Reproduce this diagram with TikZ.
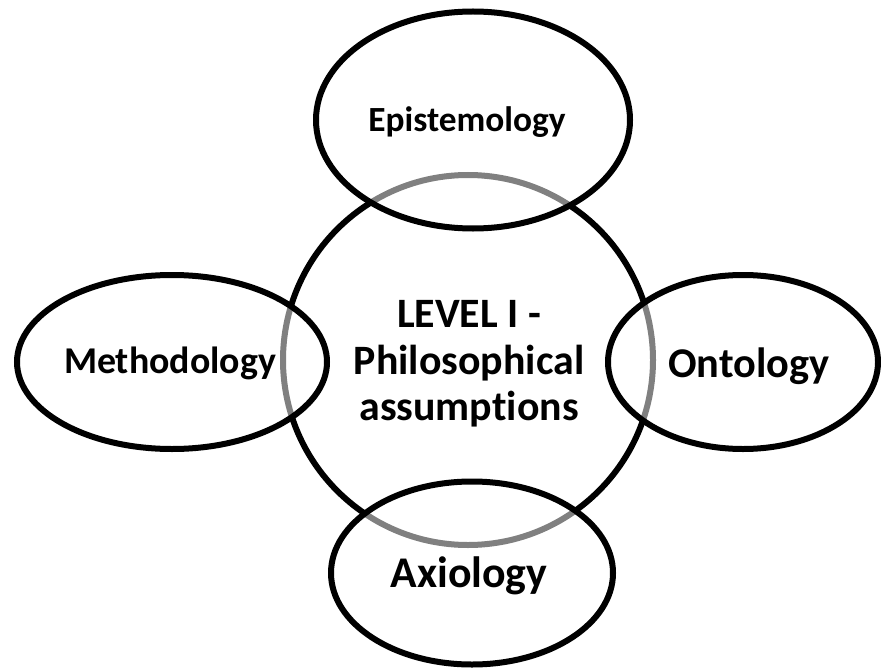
\documentclass[tikz,border=0pt]{standalone}
\usepackage{fontspec}
\setmainfont{Carlito}[Ligatures=NoCommon]
\usetikzlibrary{shapes.geometric}
\begin{document}
\begin{tikzpicture}[x=1bp,y=-1bp,
  ring/.style={circle,draw=black,line width=6bp,inner sep=0pt},
  topic/.style={ellipse,draw=black,line width=6bp,fill=white,fill opacity=0.5,
    text opacity=1,inner sep=0pt},
  caption/.style={font=\bfseries,anchor=base,inner sep=0pt},
]
\useasboundingbox (0,0) rectangle (881,671);
% central circle, partly veiled by the four ellipses
\node[ring,minimum size=370bp] (core) at (468,360) {};
% the four surrounding ellipses
\node[topic,minimum width=314bp,minimum height=217bp] (epi) at (473,120) {};
\node[topic,minimum width=310bp,minimum height=174bp] (meth) at (172,362) {};
\node[topic,minimum width=270bp,minimum height=174bp] (onto) at (743,362) {};
\node[topic,minimum width=282bp,minimum height=183bp] (axio) at (472,573) {};
% labels
\node[caption,font=\bfseries\fontsize{35.5}{42}\selectfont] (epiT) at (467,132) {Epistemology};
\node[caption,font=\bfseries\fontsize{38}{45}\selectfont] (methT) at (170,373) {Methodology};
\node[caption,font=\bfseries\fontsize{42.5}{50}\selectfont] (ontoT) at (749,377) {Ontology};
\node[caption,font=\bfseries\fontsize{44}{52}\selectfont] (axioT) at (469,587) {Axiology};
\node[font=\bfseries\fontsize{42}{46.5}\selectfont,align=center,inner sep=0pt] (coreT) at (469,364)
  {LEVEL I -\\Philosophical\\assumptions};
\end{tikzpicture}
\end{document}
